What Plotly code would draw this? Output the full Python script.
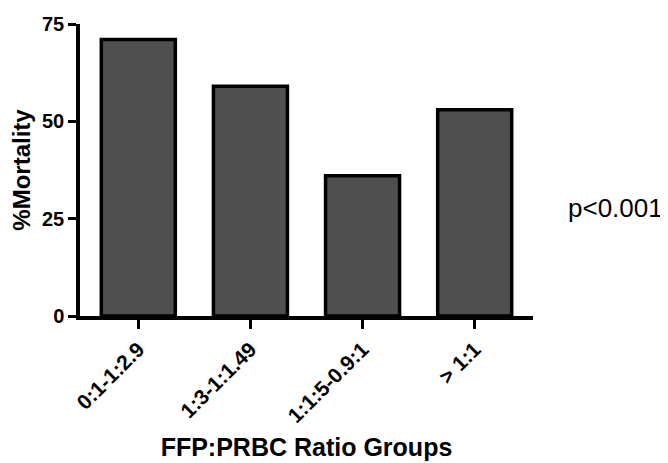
import plotly.graph_objects as go

categories = ["0:1-1:2.9", "1:3-1:1.49", "1:1:5-0.9:1", "> 1:1"]
mortality = [71, 59, 36, 53]
y_ticks = [0, 25, 50, 75]

FONT = "Liberation Sans, Arial, sans-serif"

fig = go.Figure()
fig.add_trace(go.Bar(
    x=categories, y=mortality, width=0.66,
    marker=dict(color="#4f4f4f", line=dict(color="black", width=3.5)),
))

fig.update_layout(
    template="none",
    width=660, height=455,
    margin=dict(l=72, r=135, t=16, b=147, pad=0),
    paper_bgcolor="white", plot_bgcolor="white",
    showlegend=False,
    font=dict(family=FONT, color="black"),
    xaxis=dict(
        type="category", range=[-0.52, 3.52], automargin=False,
        showline=True, linecolor="black", linewidth=3.5,
        ticks="outside", ticklen=9, tickwidth=3, tickcolor="black",
        tickangle=-45,
        tickfont=dict(family=FONT, size=21, color="black", weight="bold"),
        title=dict(text="<b>FFP:PRBC Ratio Groups</b>", font=dict(family=FONT, size=25), standoff=13),
        showgrid=False, zeroline=False,
    ),
    yaxis=dict(
        range=[0, 75], tickvals=y_ticks, automargin=False,
        showline=True, linecolor="black", linewidth=3.5,
        ticks="outside", ticklen=8, tickwidth=3, tickcolor="black",
        tickfont=dict(family=FONT, size=20, color="black", weight="bold"),
        title=dict(text="<b>%Mortality</b>", font=dict(family=FONT, size=24), standoff=12),
        showgrid=False, zeroline=False,
    ),
    annotations=[dict(
        text="p<0.001", xref="paper", yref="paper", x=1.072, y=0.37,
        xanchor="left", yanchor="middle", showarrow=False,
        font=dict(family=FONT, size=26, color="black"),
    )],
)

fig.write_html("out.html")
